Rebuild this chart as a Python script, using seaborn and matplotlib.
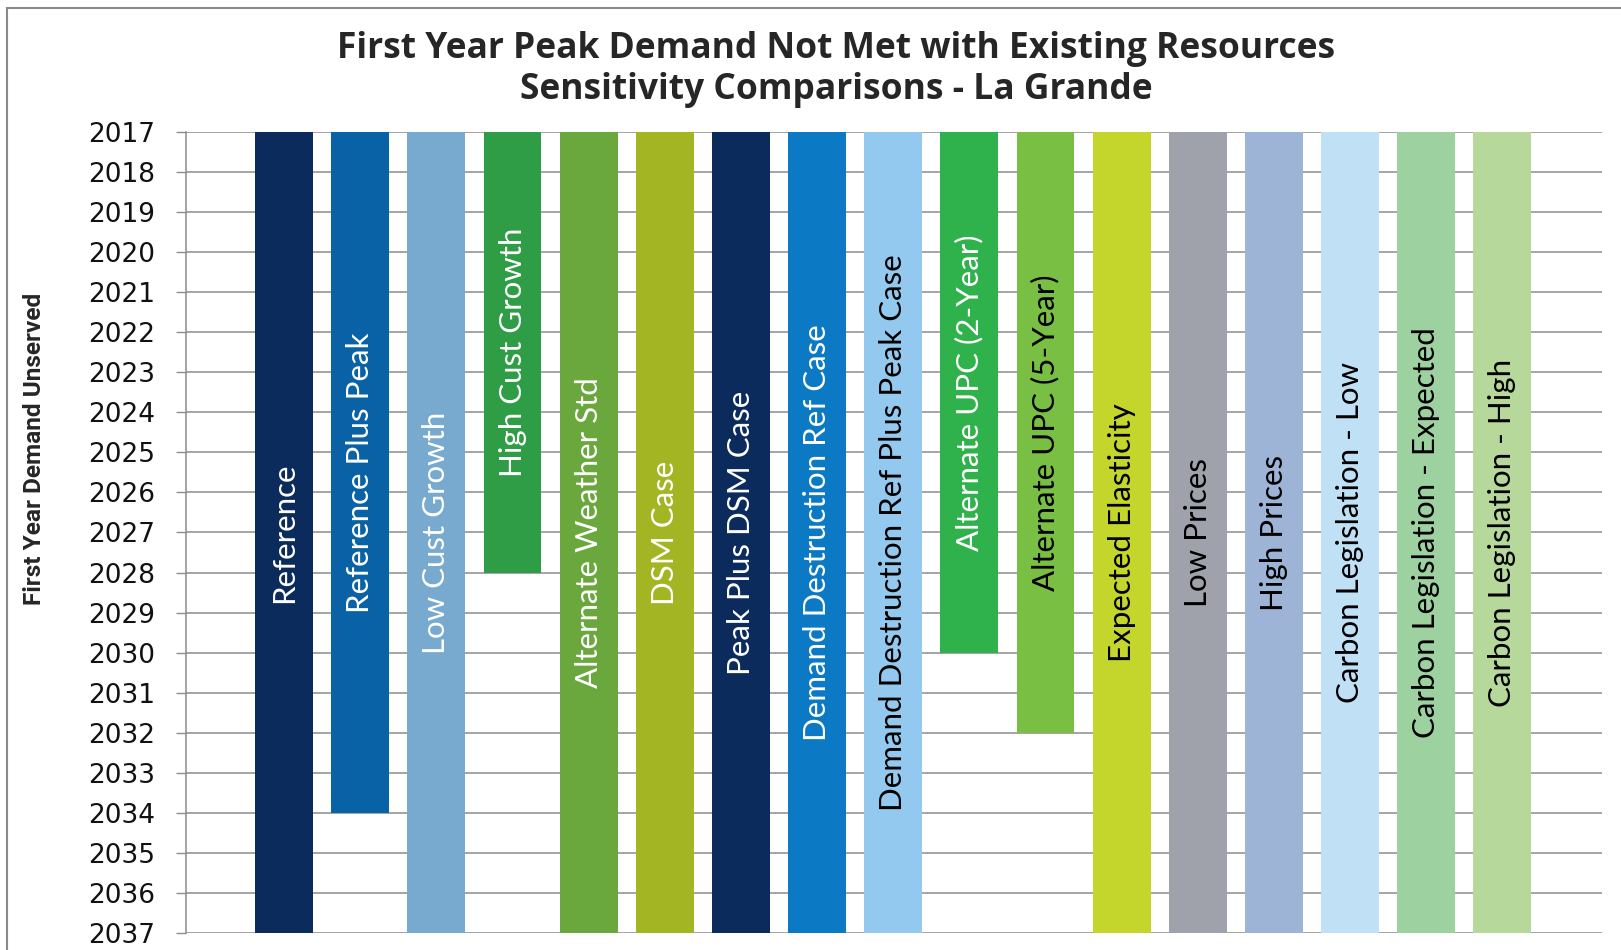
import numpy as np
import pandas as pd
import seaborn as sns
import matplotlib.pyplot as plt
from matplotlib.patches import Rectangle

# scenarios, left to right
scenarios = ['Reference', 'Reference Plus Peak', 'Low Cust Growth', 'High Cust Growth',
             'Alternate Weather Std', 'DSM Case', 'Peak Plus DSM Case',
             'Demand Destruction Ref Case', 'Demand Destruction Ref Plus Peak Case',
             'Alternate UPC (2-Year)', 'Alternate UPC (5-Year)', 'Expected Elasticity',
             'Low Prices', 'High Prices', 'Carbon Legislation - Low',
             'Carbon Legislation - Expected', 'Carbon Legislation - High']
# first year of unserved peak demand (bar end)
first_year = [2037, 2034, 2037, 2028, 2037, 2037, 2037, 2037, 2037,
              2030, 2032, 2037, 2037, 2037, 2037, 2037, 2037]
start_year = 2017
years = list(range(2017, 2038))

bar_colors = ['#0b2b5c', '#0a62a6', '#78a9ce', '#2f9d45', '#6aa73c', '#a3b523',
              '#0b2b5c', '#0b79c3', '#93c9ee', '#2fb24b', '#79bf44', '#c4d62b',
              '#9fa2ab', '#9db4d7', '#c0e0f5', '#9dd2a0', '#b6d89b']
text_colors = ['white'] * 8 + ['black', 'white'] + ['black'] * 7

df = pd.DataFrame({'scenario': scenarios, 'end': first_year})
df['span'] = df['end'] - start_year

sns.set_style('white')

fig = plt.figure(figsize=(16.21, 9.5), dpi=100)
ax = fig.add_axes([0.1147, 0.0179, 0.8736, 0.8432])

sns.barplot(data=df, x='scenario', y='span', hue='scenario', palette=bar_colors,
            legend=False, width=0.76, bottom=start_year, saturation=1,
            linewidth=0, ax=ax, zorder=3)

ax.set_ylim(2037, 2017)
ax.set_xlim(-1.29, 17.31)
ax.set_yticks(years)
ax.set_yticklabels([str(y) for y in years], fontsize=19, color='#111111')
ax.set_xticks([])
ax.set_xlabel('')
ax.set_ylabel('')
ax.yaxis.grid(True, color='#8c8c8c', linewidth=1.1, zorder=0)
ax.set_axisbelow(True)
ax.tick_params(axis='y', which='both', left=True, length=7.5, width=1,
               color='#8c8c8c', pad=15)
for s in ['top', 'right', 'bottom']:
    ax.spines[s].set_visible(False)
ax.spines['left'].set_color('#8c8c8c')
ax.spines['left'].set_linewidth(1.1)

# labels centred inside each bar
for i, (name, end) in enumerate(zip(scenarios, first_year)):
    ax.text(i, (start_year + end) / 2, name, rotation=90, ha='center', va='center',
            fontsize=22.5, color=text_colors[i], family='Lato', zorder=5)

fig.text(0.516, 0.948, 'First Year Peak Demand Not Met with Existing Resources',
         ha='center', va='center', fontsize=25.5, fontweight='bold', family='Open Sans')
fig.text(0.516, 0.905, 'Sensitivity Comparisons - La Grande',
         ha='center', va='center', fontsize=25.5, fontweight='bold', family='Open Sans')
fig.text(0.021, 0.528, 'First Year Demand Unserved', rotation=90, ha='center',
         va='center', fontsize=17.6, fontweight='bold', family='Roboto')

# outer chart frame
fig.patches.append(Rectangle((0.0045, -0.01), 1.1, 1.0016, transform=fig.transFigure,
                             fill=False, edgecolor='#8a8a8a', linewidth=1.5))

fig.savefig('out.png', dpi=100)
